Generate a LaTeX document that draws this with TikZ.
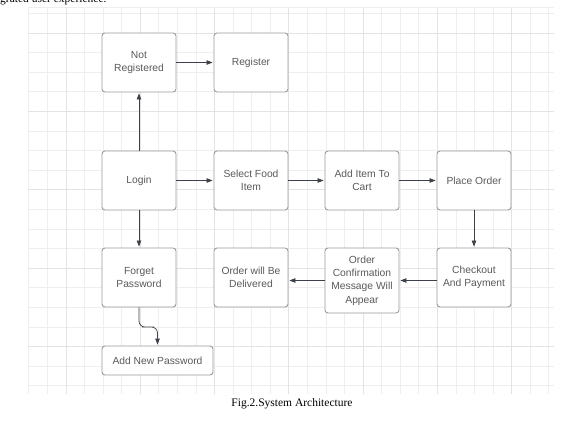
\documentclass[tikz,border=0pt]{standalone}
\usepackage{fontspec}
\setmainfont{Liberation Serif}
\newfontfamily\boxfont{Liberation Sans}
\usetikzlibrary{arrows.meta}
\definecolor{gridminor}{HTML}{EEEEEE}
\definecolor{gridmajor}{HTML}{E3E3E3}
\definecolor{boxc}{HTML}{9A9A9A}
\definecolor{txtc}{HTML}{5A5A5A}
\definecolor{arrc}{HTML}{3C4048}
\tikzset{
  stepbox/.style={draw=boxc, fill=white, rounded corners=3pt, line width=0.9pt,
    minimum width=74pt, minimum height=59pt, inner sep=0pt, align=center,
    font={\boxfont\fontsize{10.3}{13.3}\selectfont}, text=txtc},
  arr/.style={draw=arrc, line width=0.7pt, -{Triangle[length=6pt,width=4.5pt]}, shorten >=1pt},
  gminor/.style={draw=gridminor, line width=0.8pt},
  gmajor/.style={draw=gridmajor, line width=0.9pt},
}
\begin{document}
\begin{tikzpicture}[x=1pt,y=-1pt]
\clip (0,0) rectangle (563,424);
\fill[white] (0,0) rectangle (563,424);
% grid
\foreach \i in {0,...,28} \draw[gminor] ({28.85+\i*18.57},7) -- ({28.85+\i*18.57},394);
\foreach \j in {-1,...,18} \draw[gminor] (28,{33+\j*19.6}) -- (554,{33+\j*19.6});
\draw[gminor] (28,7) -- (554,7);
\foreach \i in {2,6,...,26} \draw[gmajor] ({28.85+\i*18.57},7) -- ({28.85+\i*18.57},394);
\foreach \j in {0,4,...,16} \draw[gmajor] (28,{33+\j*19.6}) -- (554,{33+\j*19.6});
% top clipped text (cut off at the top edge, as in the reference)
\node[anchor=base west, inner sep=0pt, font=\fontsize{11.5}{13}\selectfont] (toptext) at (0,2.3) {grated user experience.};
% boxes
\node[stepbox] (notreg) at (139,62.5) {Not\\Registered};
\node[stepbox] (register) at (251,62.5) {Register};
\node[stepbox] (login) at (139,180.5) {Login};
\node[stepbox] (select) at (251,180.5) {Select Food\\Item};
\node[stepbox] (addcart) at (362,180.5) {Add Item To\\Cart};
\node[stepbox] (place) at (474,180.5) {Place Order};
\node[stepbox] (forget) at (139,277.5) {Forget\\Password};
\node[stepbox] (delivered) at (251,277.5) {Order will Be\\Delivered};
\node[stepbox, minimum height=65pt] (confirm) at (362,280.5) {Order\\Confirmation\\Message Will\\Appear};
\node[stepbox] (checkout) at (474,277.5) {Checkout\\And Payment};
\node[stepbox, minimum width=111pt, minimum height=29pt] (newpw) at (157.5,360.5) {Add New Password};
% connectors
\draw[arr] (notreg.east) -- (register.west);
\draw[arr] (login.north) -- (notreg.south);
\draw[arr] (login.south) -- (forget.north);
\draw[arr] (login.east) -- (select.west);
\draw[arr] (select.east) -- (addcart.west);
\draw[arr] (addcart.east) -- (place.west);
\draw[arr] (place.south) -- (checkout.north);
\draw[arr] (checkout.west |- confirm.center) -- (confirm.east);
\draw[arr] (confirm.west) -- (delivered.east |- confirm.center);
\coordinate (bend) at (148,327);
\draw[arr, rounded corners=6pt] (forget.south) |- (bend) -| (newpw.north);
% caption
\node[anchor=base, inner sep=0pt, font=\fontsize{11.5}{13}\selectfont] (caption) at (292,406.7) {Fig.2.System Architecture};
\end{tikzpicture}
\end{document}
